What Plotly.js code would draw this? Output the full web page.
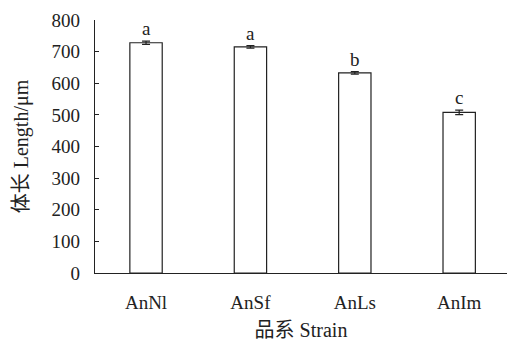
<!DOCTYPE html>
<html><head><meta charset="utf-8">
<script src="https://cdn.plot.ly/plotly-3.0.1.min.js"></script>
<style>html,body{margin:0;padding:0;background:#fff}#chart{width:507px;height:343px}</style>
</head><body><div id="chart"></div>
<script>
const strains = ["AnNl", "AnSf", "AnLs", "AnIm"];
const lengths = [728, 715, 633, 508];
const errors = [5, 4, 4, 7];
const letters = ["a", "a", "b", "c"];
const yTicks = [0, 100, 200, 300, 400, 500, 600, 700, 800];

const font = {family: "'Liberation Serif', 'Times New Roman', serif", size: 19, color: "#222"};
const titleFont = {family: "'Liberation Serif', 'Noto Sans CJK SC', serif", size: 20, color: "#222"};

const trace = {
  type: "bar", x: strains, y: lengths,
  width: 0.31,
  marker: {color: "#fff", line: {color: "#222", width: 1.2}},
  error_y: {type: "data", array: errors, visible: true, color: "#222", thickness: 1.2, width: 4}
};

const annotations = strains.map((s, i) => ({
  x: s, y: lengths[i] + errors[i], text: letters[i], showarrow: false,
  yanchor: "bottom", yshift: 0, font: font
}));

const layout = {
  width: 507, height: 343,
  margin: {l: 95, r: 0, t: 20, b: 70},
  paper_bgcolor: "#fff", plot_bgcolor: "#fff",
  font: font, showlegend: false,
  xaxis: {
    type: "category", range: [-0.489, 3.458],
    showline: true, linecolor: "#222", linewidth: 1.2,
    ticks: "", ticklabelstandoff: 12, tickfont: font,
    title: {text: "品系 Strain", font: titleFont, standoff: 11},
    showgrid: false, zeroline: false
  },
  yaxis: {
    range: [0, 800], tickvals: yTicks, ticktext: yTicks.map(String),
    showline: true, linecolor: "#222", linewidth: 1.2,
    ticks: "inside", ticklen: 4, tickcolor: "#222", tickwidth: 1.2,
    ticklabelstandoff: 10, tickfont: font,
    title: {text: "体长 Length/μm", font: titleFont, standoff: 17},
    showgrid: false, zeroline: false
  },
  annotations: annotations
};

Plotly.newPlot("chart", [trace], layout, {staticPlot: true, displayModeBar: false});
</script></body></html>
